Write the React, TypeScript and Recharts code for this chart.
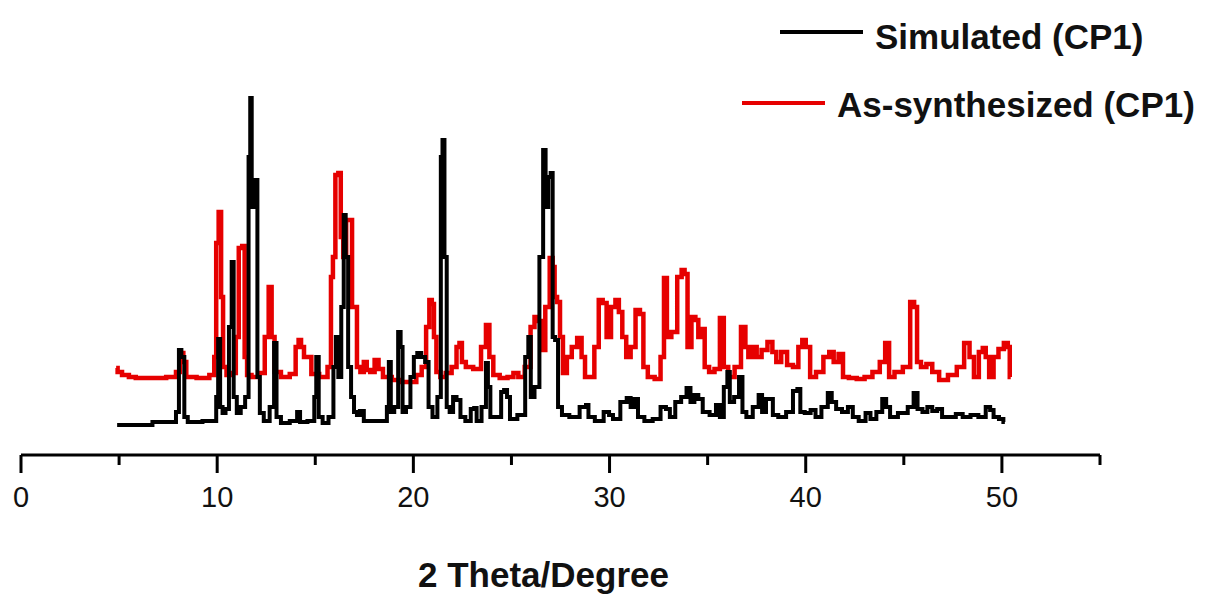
import { Line, LineChart, XAxis, YAxis } from 'recharts';

/* ───────────── data (2θ, intensity) ───────────── */

const xTicks = [0, 5, 10, 15, 20, 25, 30, 35, 40, 45, 50, 55];

const simulatedTheta = [
  4.9, 6.6, 6.8, 7.8, 8.0, 8.1, 8.25, 8.4, 8.6, 9.9, 10.0, 10.1, 10.2, 10.35, 10.5, 10.7, 10.78,
  10.9, 11.1, 11.3, 11.55, 11.65, 11.72, 11.8, 11.9, 12.0, 12.1, 12.25, 12.5, 12.85, 12.95, 13.1,
  13.4, 14.0, 14.15, 14.3, 14.9, 15.0, 15.1, 15.25, 15.5, 15.85, 16.0, 16.1, 16.25, 16.4, 16.5,
  16.6, 16.75, 16.9, 17.05, 17.2, 17.35, 17.6, 18.6, 18.7, 18.8, 18.9, 19.15, 19.3, 19.4, 19.5,
  19.75, 19.95, 20.1, 20.3, 20.5, 20.7, 20.85, 21.1, 21.35, 21.45, 21.52, 21.65, 21.75, 21.95,
  22.1, 22.3, 22.5, 22.8, 23.05, 23.15, 23.3, 23.65, 23.75, 23.85, 24.0, 24.4, 24.55, 24.7, 24.85,
  25.0, 25.6, 25.8, 25.92, 26.05, 26.3, 26.55, 26.68, 26.8, 26.95, 27.05, 27.15, 27.3, 27.45,
  27.7, 28.2, 28.75, 28.85, 29.0, 29.5, 29.9, 30.05, 30.3, 30.8, 30.95, 31.2, 31.35, 31.55, 32.0,
  32.4, 32.8, 32.95, 33.2, 33.5, 33.8, 34.05, 34.2, 34.45, 34.6, 34.9, 35.3, 35.55, 35.7, 35.95,
  36.06, 36.2, 36.5, 36.7, 36.85, 37.1, 37.5, 37.7, 37.85, 38.1, 38.25, 38.4, 38.8, 39.2, 39.5,
  39.65, 39.8, 40.1, 40.4, 40.6, 41.0, 41.25, 41.4, 41.7, 42.0, 42.3, 42.5, 42.9, 43.2, 43.4,
  43.8, 44.0, 44.2, 44.4, 45.0, 45.4, 45.6, 45.8, 46.1, 46.3, 46.6, 46.8, 47.1, 47.5, 47.8, 48.2,
  48.6, 49.0, 49.35, 49.45, 49.7, 50.0, 50.15,
];
const simulatedIntensity = [
  32, 32, 35, 35, 45, 107, 100, 40, 35, 36, 60, 118, 50, 44, 48, 130, 195,
  60, 44, 50, 60, 300, 359, 250, 270, 277, 80, 44, 36, 50, 114, 40,
  34, 36, 45, 35, 36, 60, 100, 40, 34, 40, 90, 120, 80, 150, 242,
  200, 90, 60, 45, 42, 46, 36, 36, 50, 95, 45, 50, 125, 110, 45,
  50, 80, 100, 104, 100, 95, 50, 40, 60, 300, 317, 200, 50, 45,
  60, 57, 40, 36, 48, 49, 36, 50, 94, 70, 40, 40, 65, 67, 60,
  38, 42, 100, 120, 60, 70, 200, 307, 250, 280, 284, 120, 117, 50,
  42, 40, 50, 52, 40, 36, 45, 42, 38, 55, 59, 50, 58, 40, 36,
  38, 50, 48, 40, 55, 60, 69, 55, 62, 58, 45, 42, 52, 40, 70,
  85, 55, 60, 80, 45, 40, 50, 62, 45, 58, 58, 42, 40, 45, 66,
  68, 45, 44, 47, 40, 50, 64, 55, 48, 45, 50, 40, 36, 44, 38,
  45, 58, 50, 40, 44, 50, 64, 48, 45, 50, 46, 48, 40, 40, 43, 40,
  42, 40, 50, 47, 40, 38, 35,
];

const synthTheta = [
  4.85, 5.0, 5.3, 5.7, 6.0, 7.0, 7.8, 8.0, 8.2, 8.35, 8.5, 9.4, 9.8, 9.9, 10.0, 10.15, 10.25,
  10.35, 10.6, 10.9, 11.0, 11.2, 11.35, 11.45, 11.6, 11.9, 12.3, 12.55, 12.7, 12.85, 13.0, 13.5,
  13.9, 14.1, 14.2, 14.35, 14.5, 14.7, 14.9, 15.5, 15.75, 15.85, 15.95, 16.1, 16.25, 16.35, 16.5,
  16.65, 16.8, 16.95, 17.05, 17.2, 17.4, 17.55, 17.7, 17.9, 18.15, 18.3, 18.6, 19.2, 19.6, 20.0,
  20.3, 20.55, 20.75, 20.88, 21.0, 21.1, 21.25, 21.5, 21.8, 22.1, 22.3, 22.4, 22.55, 22.8, 23.3,
  23.6, 23.8, 23.95, 24.2, 24.6, 25.0, 25.2, 25.5, 25.85, 26.1, 26.25, 26.4, 26.6, 26.85, 27.05,
  27.15, 27.25, 27.4, 27.55, 27.7, 27.95, 28.2, 28.5, 28.65, 28.85, 29.1, 29.35, 29.55, 29.75,
  29.95, 30.2, 30.4, 30.55, 30.75, 30.95, 31.2, 31.45, 31.65, 31.8, 32.1, 32.5, 32.7, 32.85,
  33.0, 33.3, 33.6, 33.75, 33.9, 34.05, 34.3, 34.45, 34.6, 34.75, 34.95, 35.2, 35.5, 35.75, 35.9,
  36.2, 36.55, 36.85, 37.0, 37.15, 37.4, 37.6, 37.9, 38.2, 38.4, 38.6, 38.9, 39.2, 39.5, 39.75,
  39.9, 40.1, 40.35, 40.7, 41.1, 41.3, 41.55, 41.8, 42.0, 42.4, 42.8, 43.2, 43.6, 43.95, 44.15,
  44.35, 44.7, 45.2, 45.45, 45.6, 45.75, 46.0, 46.3, 46.6, 47.0, 47.5, 47.9, 48.25, 48.45, 48.7,
  48.95, 49.1, 49.25, 49.45, 49.7, 49.95, 50.25, 50.35, 50.45,
];
const synthIntensity = [
  89, 85, 82, 80, 79, 79, 80, 85, 104, 95, 80, 79, 82, 100, 214, 245, 160,
  90, 82, 84, 120, 209, 211, 100, 82, 80, 84, 120, 170, 120, 85, 80,
  83, 110, 117, 110, 100, 100, 83, 80, 90, 180, 200, 282, 284, 220, 200,
  237, 237, 150, 150, 90, 85, 95, 87, 85, 97, 88, 80, 77, 75, 75,
  82, 90, 130, 157, 153, 120, 85, 80, 84, 90, 110, 114, 95, 90, 88,
  110, 132, 100, 82, 79, 80, 84, 80, 90, 130, 140, 136, 107, 150, 199,
  190, 160, 155, 120, 84, 100, 110, 119, 100, 80, 80, 110, 157, 154,
  120, 150, 157, 145, 120, 100, 110, 147, 143, 90, 80, 78, 100, 179,
  120, 125, 180, 187, 183, 110, 140, 137, 120, 128, 90, 85, 88, 139, 90,
  80, 90, 130, 110, 100, 110, 100, 107, 115, 105, 95, 105, 92, 90, 110,
  117, 110, 80, 85, 100, 105, 95, 103, 80, 79, 78, 80, 85, 95, 114,
  80, 85, 90, 155, 150, 95, 90, 93, 85, 77, 82, 90, 114, 100, 80,
  105, 109, 100, 80, 100, 108, 114, 110, 80,
];

const simulated = simulatedTheta.map((t, i) => ({ theta: t, value: simulatedIntensity[i] }));
const synthesized = synthTheta.map((t, i) => ({ theta: t, value: synthIntensity[i] }));

const FONT = '"Liberation Sans", Arial, sans-serif';
const RED = '#e60000';

/* ───────────── axis pieces ───────────── */

interface TickProps {
  x?: number;
  y?: number;
  payload?: { value: number };
}

// major ticks every 10 carry a label, the 5s are short and bare
function ThetaTick({ x = 0, y = 0, payload }: TickProps) {
  const v = payload?.value ?? 0;
  const major = v % 10 === 0;
  return (
    <g>
      <line x1={x} y1={y} x2={x} y2={y + (major ? 18 : 10)} stroke="#000" strokeWidth={3} />
      {major && v <= 50 && (
        <text x={x} y={y + 52} textAnchor="middle" fontFamily={FONT} fontSize={29} fill="#111">
          {v}
        </text>
      )}
    </g>
  );
}

function AxisTitle({ viewBox }: { viewBox?: { x: number; y: number; width: number } }) {
  if (!viewBox) return null;
  return (
    <text
      x={viewBox.x + viewBox.width / 2 - 17}
      y={viewBox.y + 132}
      textAnchor="middle"
      fontFamily={FONT}
      fontWeight="bold"
      fontSize={35}
      fill="#111"
    >
      2 Theta/Degree
    </text>
  );
}

function Legend2() {
  return (
    <g fontFamily={FONT} fontWeight="bold" fontSize={35} fill="#111">
      <line x1={780} y1={32} x2={863} y2={32} stroke="#000" strokeWidth={4} />
      <text x={875} y={49}>Simulated (CP1)</text>
      <line x1={742} y1={103} x2={825} y2={103} stroke={RED} strokeWidth={4} />
      <text x={837} y={117}>As-synthesized (CP1)</text>
    </g>
  );
}

export default function App() {
  return (
    <div style={{ position: 'absolute', left: 0, top: 0, background: '#fff' }}>
      <LineChart width={1209} height={599} margin={{ top: 55, right: 109, left: 21, bottom: 0 }}>
        <XAxis
          dataKey="theta"
          type="number"
          domain={[0, 55]}
          ticks={xTicks}
          interval={0}
          height={144}
          axisLine={{ stroke: '#000', strokeWidth: 3 }}
          tickLine={false}
          tickSize={0}
          tickMargin={0}
          tick={<ThetaTick />}
          label={<AxisTitle />}
          allowDuplicatedCategory={false}
        />
        <YAxis hide type="number" domain={[2, 402]} />
        <Line
          data={synthesized}
          dataKey="value"
          type="step"
          stroke={RED}
          strokeWidth={4.5}
          dot={false}
          isAnimationActive={false}
        />
        <Line
          data={simulated}
          dataKey="value"
          type="step"
          stroke="#000"
          strokeWidth={4}
          dot={false}
          isAnimationActive={false}
        />
        <Legend2 />
      </LineChart>
    </div>
  );
}
